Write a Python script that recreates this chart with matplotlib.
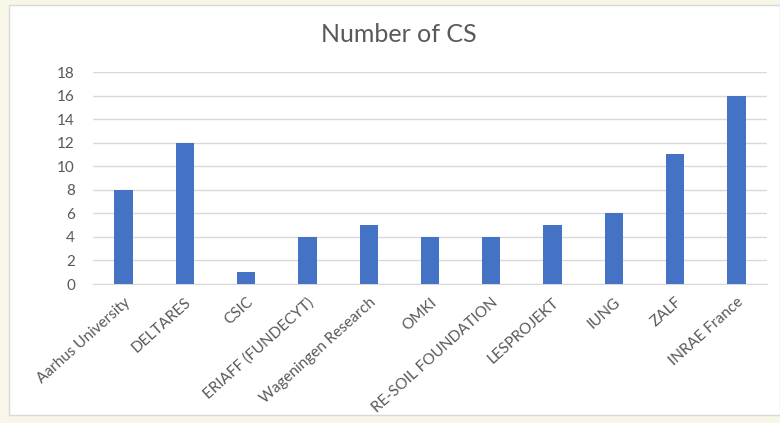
import matplotlib.pyplot as plt
from matplotlib.patches import Rectangle

# Data
partners = ['Aarhus University', 'DELTARES', 'CSIC', 'ERIAFF (FUNDECYT)',
            'Wageningen Research', 'OMKI', 'RE-SOIL FOUNDATION', 'LESPROJEKT',
            'IUNG', 'ZALF', 'INRAE France']
n_cs = [8, 12, 1, 4, 5, 4, 4, 5, 6, 11, 16]
y_ticks = [0, 2, 4, 6, 8, 10, 12, 14, 16, 18]

plt.rcParams['font.family'] = ['Lato', 'DejaVu Sans']

fig = plt.figure(figsize=(7.8, 4.23), dpi=100, facecolor='#f8f6e9')

# white chart area on the cream page
fig.patches.append(Rectangle((9 / 780, 8 / 423), 1 - 9 / 780, 410 / 423,
                             transform=fig.transFigure, facecolor='white',
                             edgecolor='#d9d9d9', linewidth=1, zorder=-5))

ax = fig.add_axes([93 / 780, 139 / 423, 674 / 780, 212 / 423])
ax.set_facecolor('none')

x = range(len(partners))
ax.bar(x, n_cs, width=0.3, color='#4472c4', zorder=3)

ax.set_xlim(-0.5, len(partners) - 0.5)
ax.set_ylim(0, 18)
ax.set_yticks(y_ticks)
ax.yaxis.grid(True, color='#d9d9d9', linewidth=1, zorder=0)

ax.set_xticks(list(x))
ax.set_xticklabels(partners, rotation=42, ha='right', rotation_mode='anchor')

ax.tick_params(axis='both', length=0, labelcolor='#595959')
ax.tick_params(axis='y', pad=13, labelsize=11)
ax.tick_params(axis='x', pad=8, labelsize=11)

for side in ['left', 'right', 'top']:
    ax.spines[side].set_visible(False)
ax.spines['bottom'].set_color('#d9d9d9')

fig.text(399 / 780, 1 - 42 / 423, 'Number of CS', ha='center', va='baseline',
         fontsize=18, color='#595959')

fig.savefig('out.png', dpi=100, facecolor=fig.get_facecolor())
